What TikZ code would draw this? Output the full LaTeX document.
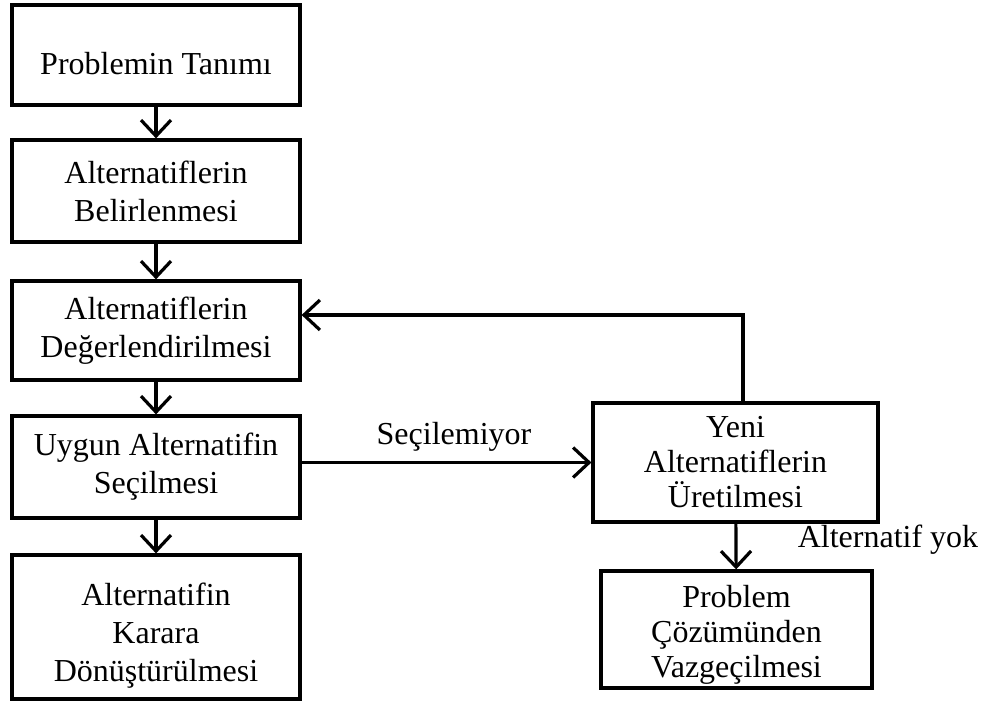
\documentclass[tikz,border=0pt]{standalone}
\usepackage{fontspec}
\setmainfont{Liberation Serif}
\usetikzlibrary{arrows.meta}
\newcommand{\dnshift}[1]{\rule{0pt}{#1}}
\begin{document}
\begin{tikzpicture}[x=1pt,y=-1pt,
  box/.style={draw, line width=3.2pt, align=center, inner sep=0pt,
    font=\fontsize{32}{38}\selectfont},
  tight/.style={font=\fontsize{32}{35}\selectfont},
  arr/.style={line width=3.2pt, -{Straight Barb[length=16pt,width=30pt,line width=3.2pt]}},
  lbl/.style={font=\fontsize{32}{37}\selectfont, inner sep=0pt}]
\useasboundingbox (0,0) rectangle (995,704);
\node[box, minimum width=288pt, minimum height=100pt] (b1) at (156,55) {\dnshift{40pt}Problemin Tanımı};
\node[box, minimum width=288pt, minimum height=102pt] (b2) at (156,191) {Alternatiflerin\\Belirlenmesi};
\node[box, minimum width=288pt, minimum height=99pt] (b3) at (156,330.5) {Alternatiflerin\\Değerlendirilmesi};
\node[box, minimum width=288pt, minimum height=102pt] (b4) at (156,467) {Uygun Alternatifin\\Seçilmesi};
\node[box, minimum width=288pt, minimum height=144pt] (b5) at (156,627) {\dnshift{40pt}Alternatifin\\Karara\\Dönüştürülmesi};
\node[box, tight, minimum width=285pt, minimum height=119pt] (yeni) at (735.5,462.5) {Yeni\\Alternatiflerin\\Üretilmesi};
\node[box, tight, minimum width=271pt, minimum height=117pt] (vaz) at (736.5,629.5) {\dnshift{32pt}Problem\\Çözümünden\\Vazgeçilmesi};
\node[lbl] (l1) at (454,437) {Seçilemiyor};
\node[lbl] (l2) at (888,540) {Alternatif yok};
\coordinate (fb) at (743,315);
\draw[arr] (b1) -- (b2);
\draw[arr] (b2) -- (b3);
\draw[arr] (b3) -- (b4);
\draw[arr] (b4) -- (b5);
\draw[arr] (yeni.west -| b4.east) -- (yeni.west);
\draw[arr] (yeni.north -| fb) -- (fb) -- (fb -| b3.east);
\draw[arr] (yeni) -- (vaz);
\end{tikzpicture}
\end{document}
